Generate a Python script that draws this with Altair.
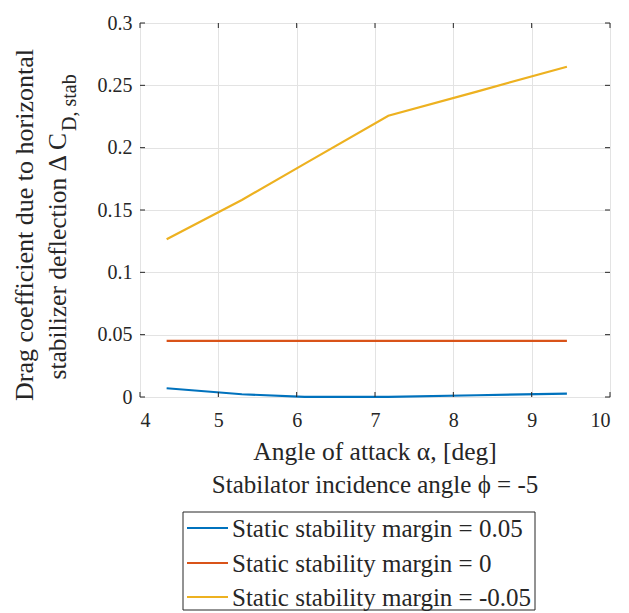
import altair as alt
import pandas as pd

FONT = "Liberation Serif"
INK = "#262626"

# ---- data ----
alpha = [4.34, 5.3, 6.1, 7.17, 8.3, 9.45]
margin_pos = [0.0070, 0.0022, 0.0001, 0.0001, 0.0014, 0.0027]
margin_zero = [0.045, 0.045, 0.045, 0.045, 0.045, 0.045]
margin_neg = [0.1265, 0.158, 0.187, 0.2256, 0.245, 0.2649]

series_names = [
    "Static stability margin = 0.05",
    "Static stability margin = 0",
    "Static stability margin = -0.05",
]
series_colors = ["#0072BD", "#D95319", "#EDB120"]

x_ticks = [4, 5, 6, 7, 8, 9, 10]
y_ticks = [0, 0.05, 0.1, 0.15, 0.2, 0.25, 0.3]

x_title = ["Angle of attack α, [deg]", "Stabilator incidence angle ϕ = -5"]
y_title_1 = "Drag coefficient due to horizontal"
y_title_2 = "stabilizer deflection Δ C"
y_title_sub = "D, stab"

W, H = 470, 374

rows = []
for name, vals in zip(series_names, [margin_pos, margin_zero, margin_neg]):
    for a, v in zip(alpha, vals):
        rows.append({"alpha": a, "value": v, "series": name})
df = pd.DataFrame(rows)

xscale = alt.Scale(domain=[4, 10], nice=False, zero=False)
yscale = alt.Scale(domain=[0, 0.3], nice=False, zero=False)

lines = alt.Chart(df).mark_line(strokeWidth=2.2).encode(
    x=alt.X("alpha:Q", scale=xscale,
            axis=alt.Axis(values=x_ticks, format="~g", title=None, grid=True, domain=False, ticks=False,
                          labelFont=FONT, labelFontSize=20, labelColor=INK, labelPadding=13,
                          gridColor="#e3e3e3", gridWidth=1)),
    y=alt.Y("value:Q", scale=yscale,
            axis=alt.Axis(values=y_ticks, format="~g", title=None, grid=True, domain=False, ticks=False,
                          labelFont=FONT, labelFontSize=20, labelColor=INK, labelPadding=8,
                          gridColor="#e3e3e3", gridWidth=1)),
    color=alt.Color("series:N", scale=alt.Scale(domain=series_names, range=series_colors), legend=None),
)

xt = pd.DataFrame({"t": x_ticks})
yt = pd.DataFrame({"t": y_ticks})
tk = dict(color=INK, strokeWidth=1)
tick_bottom = alt.Chart(xt).mark_rule(**tk).encode(x=alt.X("t:Q", scale=xscale), y=alt.value(H), y2=alt.value(H - 5))
tick_top = alt.Chart(xt).mark_rule(**tk).encode(x=alt.X("t:Q", scale=xscale), y=alt.value(0), y2=alt.value(5))
tick_left = alt.Chart(yt).mark_rule(**tk).encode(y=alt.Y("t:Q", scale=yscale), x=alt.value(0), x2=alt.value(5))
tick_right = alt.Chart(yt).mark_rule(**tk).encode(y=alt.Y("t:Q", scale=yscale), x=alt.value(W), x2=alt.value(W - 5))

txt = dict(font=FONT, color=INK)
xt1 = alt.Chart(pd.DataFrame({"s": [x_title[0]]})).mark_text(fontSize=25.5, align="center", baseline="alphabetic", **txt).encode(
    text="s:N", x=alt.value(W / 2), y=alt.value(437))
xt2 = alt.Chart(pd.DataFrame({"s": [x_title[1]]})).mark_text(fontSize=25, align="center", baseline="alphabetic", **txt).encode(
    text="s:N", x=alt.value(W / 2), y=alt.value(470))
yt1 = alt.Chart(pd.DataFrame({"s": [y_title_1]})).mark_text(fontSize=26, angle=270, align="center", baseline="alphabetic", **txt).encode(
    text="s:N", x=alt.value(-107), y=alt.value(202))
yt2 = alt.Chart(pd.DataFrame({"s": [y_title_2]})).mark_text(fontSize=25.5, angle=270, align="right", baseline="alphabetic", **txt).encode(
    text="s:N", x=alt.value(-74), y=alt.value(110))
yt3 = alt.Chart(pd.DataFrame({"s": [y_title_sub]})).mark_text(fontSize=20, angle=270, align="left", baseline="alphabetic", **txt).encode(
    text="s:N", x=alt.value(-64), y=alt.value(108))

# ---- legend box (drawn below the plot, like MATLAB's southoutside legend) ----
LX0, LX1, LY0, LY1 = 43, 395, 489, 587
legend_layers = [
    alt.Chart(pd.DataFrame({"k": [0]})).mark_rect(fill="white", stroke=INK, strokeWidth=1).encode(
        x=alt.value(LX0), x2=alt.value(LX1), y=alt.value(LY0), y2=alt.value(LY1))
]
row_y = [505, 540, 574]
for name, col, ry in zip(series_names, series_colors, row_y):
    d = pd.DataFrame({"s": [name]})
    legend_layers.append(alt.Chart(d).mark_rule(color=col, strokeWidth=2.2).encode(
        x=alt.value(47), x2=alt.value(88), y=alt.value(ry)))
    legend_layers.append(alt.Chart(d).mark_text(fontSize=25, align="left", baseline="middle", **txt).encode(
        text="s:N", x=alt.value(92), y=alt.value(ry + 1)))

chart = alt.layer(lines, tick_bottom, tick_top, tick_left, tick_right, xt1, xt2, yt1, yt2, yt3,
                  *legend_layers).properties(
    width=W, height=H,
    autosize=alt.AutoSizeParams(type="none"),
    padding={"left": 140, "top": 23, "right": 19, "bottom": 216},
).configure_view(stroke=INK, strokeWidth=1).configure(background="white")

chart.save("out.html", embed_options={"renderer": "svg", "actions": False})
